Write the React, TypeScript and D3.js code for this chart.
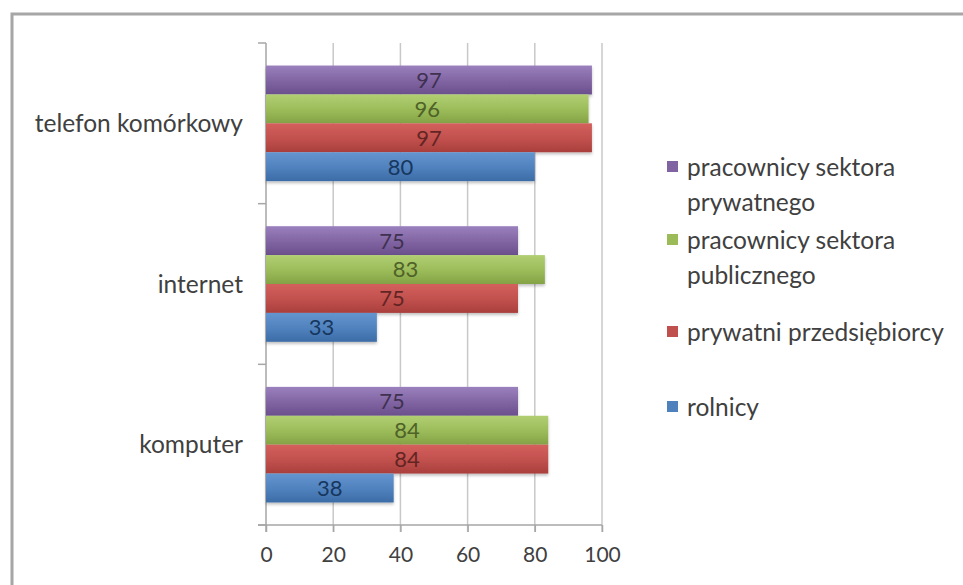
import { useEffect, useRef } from "react";
import * as d3 from "d3";

// categories, top to bottom
const categories = ["telefon komórkowy", "internet", "komputer"];
// series, drawn top to bottom inside each group
const seriesNames = [
  "pracownicy sektora prywatnego",
  "pracownicy sektora publicznego",
  "prywatni przedsiębiorcy",
  "rolnicy",
];
const prywatnego = [97, 75, 75];
const publicznego = [96, 83, 84];
const przedsiebiorcy = [97, 75, 84];
const rolnicy = [80, 33, 38];
const xTicks = [0, 20, 40, 60, 80, 100];

const legendLines = [
  ["pracownicy sektora", "prywatnego"],
  ["pracownicy sektora", "publicznego"],
  ["prywatni przedsiębiorcy"],
  ["rolnicy"],
];

const colors = ["#8064A2", "#9BBB59", "#C0504D", "#4F81BD"];
const lightColors = ["#9a80bd", "#b1cf72", "#d4605c", "#6595cf"];
const darkColors = ["#6a4f8c", "#84a245", "#a93f3c", "#3c6ca6"];
const labelColors = ["#3f3151", "#4f6228", "#632523", "#17375e"];

const FONT = "Lato, 'Open Sans', sans-serif";

export default function App() {
  const svgRef = useRef<SVGSVGElement>(null);

  useEffect(() => {
    if (!svgRef.current) return;
    const svg = d3.select(svgRef.current);
    svg.selectAll("*").remove();

    const values = [prywatnego, publicznego, przedsiebiorcy, rolnicy];
    const rows = categories.map((c, ci) => ({
      cat: c,
      vals: seriesNames.map((s, si) => ({ key: s, si, v: values[si][ci] })),
    }));

    const left = 266, right = 602, top = 43, bottom = 525;

    const x = d3.scaleLinear().domain([0, 100]).range([left, right]);
    const y0 = d3.scaleBand().domain(categories).range([top, bottom]).padding(0);
    const y1 = d3.scaleBand()
      .domain(seriesNames)
      .range([0, y0.bandwidth()])
      .paddingInner(0)
      .paddingOuter(0.78);

    // frame
    svg.append("rect")
      .attr("x", 12).attr("y", 14)
      .attr("width", 980).attr("height", 600)
      .attr("fill", "#fff")
      .attr("stroke", "#a6a6a6")
      .attr("stroke-width", 3);

    // gradients
    const defs = svg.append("defs");
    colors.forEach((c, i) => {
      const lg = defs.append("linearGradient")
        .attr("id", `g${i}`)
        .attr("x1", 0).attr("y1", 0).attr("x2", 0).attr("y2", 1);
      lg.append("stop").attr("offset", "0%").attr("stop-color", lightColors[i]);
      lg.append("stop").attr("offset", "55%").attr("stop-color", c);
      lg.append("stop").attr("offset", "100%").attr("stop-color", darkColors[i]);
    });
    const f = defs.append("filter").attr("id", "sh")
      .attr("x", "-5%").attr("y", "-20%").attr("width", "110%").attr("height", "160%");
    f.append("feDropShadow")
      .attr("dx", 0).attr("dy", 2).attr("stdDeviation", 1.5)
      .attr("flood-color", "#000").attr("flood-opacity", 0.25);

    // vertical grid lines
    svg.append("g")
      .selectAll("line")
      .data(xTicks.slice(1))
      .join("line")
      .attr("x1", d => x(d)).attr("x2", d => x(d))
      .attr("y1", top).attr("y2", bottom + 7)
      .attr("stroke", "#c8c8c8")
      .attr("stroke-width", 1.5);

    // x axis
    const xAxis = svg.append("g")
      .attr("transform", `translate(0,${bottom})`)
      .call(d3.axisBottom(x).tickValues(xTicks).tickSize(7).tickSizeOuter(0).tickPadding(15));
    xAxis.select(".domain").attr("stroke", "#a6a6a6").attr("stroke-width", 1.5)
      .attr("d", `M${left - 8},0H${right}`);
    xAxis.selectAll(".tick line").attr("stroke", "#a6a6a6").attr("stroke-width", 1.5);
    xAxis.selectAll(".tick text")
      .attr("fill", "#404040")
      .style("font-family", FONT)
      .style("font-size", "21px");

    // y axis
    const yAxis = svg.append("g").attr("transform", `translate(${left},0)`);
    yAxis.append("line")
      .attr("x1", 0).attr("x2", 0).attr("y1", top).attr("y2", bottom + 7)
      .attr("stroke", "#a6a6a6").attr("stroke-width", 1.5);
    const bounds = [top, ...categories.map(c => (y0(c) ?? 0) + y0.bandwidth())];
    yAxis.selectAll("line.tk")
      .data(bounds)
      .join("line")
      .attr("class", "tk")
      .attr("x1", -8).attr("x2", 0)
      .attr("y1", d => d).attr("y2", d => d)
      .attr("stroke", "#a6a6a6").attr("stroke-width", 1.5);
    yAxis.selectAll("text")
      .data(categories)
      .join("text")
      .attr("x", -23)
      .attr("y", d => (y0(d) ?? 0) + y0.bandwidth() / 2)
      .attr("dy", "0.35em")
      .attr("text-anchor", "end")
      .attr("fill", "#404040")
      .style("font-family", FONT)
      .style("font-size", "24.5px")
      .text(d => d);

    // bars
    const groups = svg.append("g")
      .selectAll("g")
      .data(rows)
      .join("g")
      .attr("transform", d => `translate(0,${y0(d.cat)})`);

    groups.selectAll("rect")
      .data(d => d.vals)
      .join("rect")
      .attr("x", x(0))
      .attr("y", d => y1(d.key) ?? 0)
      .attr("width", d => x(d.v) - x(0))
      .attr("height", y1.bandwidth())
      .attr("fill", d => `url(#g${d.si})`)
      .attr("filter", "url(#sh)");

    groups.selectAll("text")
      .data(d => d.vals)
      .join("text")
      .attr("x", d => (x(0) + x(d.v)) / 2)
      .attr("y", d => (y1(d.key) ?? 0) + y1.bandwidth() / 2)
      .attr("dy", "0.36em")
      .attr("text-anchor", "middle")
      .attr("fill", d => labelColors[d.si])
      .style("font-family", FONT)
      .style("font-size", "22px")
      .text(d => d.v);

    // legend
    const legendY = [167, 240, 332, 407];
    const legend = svg.append("g")
      .selectAll("g")
      .data(legendLines)
      .join("g")
      .attr("transform", (_, i) => `translate(667,${legendY[i]})`);
    legend.append("rect")
      .attr("x", 0).attr("y", -6)
      .attr("width", 11).attr("height", 11)
      .attr("fill", (_, i) => colors[i]);
    legend.append("text")
      .attr("x", 20)
      .attr("fill", "#404040")
      .style("font-family", FONT)
      .style("font-size", "24.5px")
      .selectAll("tspan")
      .data(d => d)
      .join("tspan")
      .attr("x", 20)
      .attr("y", (_, j) => j * 35)
      .attr("dy", "0.35em")
      .text(d => d);
  }, []);

  return (
    <svg
      ref={svgRef}
      width={963}
      height={585}
      style={{ position: "absolute", left: 0, top: 0, background: "#fff" }}
    />
  );
}
